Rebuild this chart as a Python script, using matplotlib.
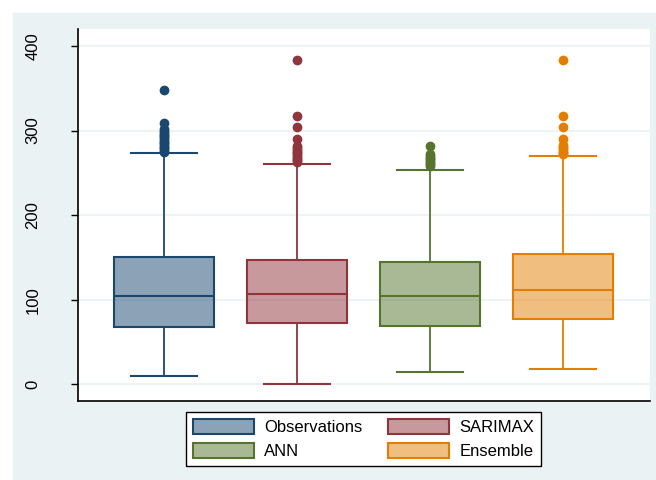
import matplotlib.pyplot as plt
import matplotlib.patches as mpatches

plt.rcParams['font.family'] = ['Liberation Sans', 'DejaVu Sans']

# series names and stata colours
names = ["Observations", "SARIMAX", "ANN", "Ensemble"]
colors = ["#1a476f", "#90353b", "#55752f", "#e37e00"]

# box statistics
whislo = [10, 0, 15, 18]
q1 = [68.5, 72.5, 69.5, 77]
med = [105, 107, 104, 112]
q3 = [151, 147.5, 145, 154.5]
whishi = [273, 260.5, 254, 270]

obs_out = [348, 309, 302, 299, 297, 295, 293, 291, 289, 287, 285, 283, 281, 279, 277, 275]
sarimax_out = [383, 317, 304, 290, 282, 279, 277, 275, 273, 271, 269, 267, 265, 263]
ann_out = [282, 272, 270, 268, 266, 264, 262, 260, 258]
ens_out = [383, 317, 304, 290, 283, 281, 279, 277, 275, 273, 272]
outliers = [obs_out, sarimax_out, ann_out, ens_out]

fig = plt.figure(figsize=(6.56, 4.80), dpi=100)
bg = mpatches.Rectangle((13 / 656, 0), 1, 467 / 480, transform=fig.transFigure,
                        color="#eaf2f3", zorder=-10)
fig.add_artist(bg)
ax = fig.add_axes([78 / 656, 79 / 480, 572 / 656, 372 / 480])
ax.set_facecolor("white")

for i in range(4):
    stats = [dict(whislo=whislo[i], q1=q1[i], med=med[i], q3=q3[i],
                  whishi=whishi[i], fliers=outliers[i])]
    c = colors[i]
    ax.bxp(stats, positions=[i + 1], widths=0.75, patch_artist=True,
           boxprops=dict(facecolor=c + "80", edgecolor=c, linewidth=1.5),
           medianprops=dict(color=c, linewidth=1.5),
           whiskerprops=dict(color=c, linewidth=1.3),
           capprops=dict(color=c, linewidth=1.5),
           capwidths=0.5,
           flierprops=dict(marker="o", markerfacecolor=c, markeredgecolor=c,
                           markersize=6, linestyle="none"))

ax.set_xlim(0.353, 4.654)
ax.set_ylim(-19.5, 420)
ax.set_yticks([0, 100, 200, 300, 400])
ax.set_yticklabels(["0", "100", "200", "300", "400"], rotation=90, va="center")
ax.tick_params(axis="y", length=5, width=1, labelsize=12, pad=22)
ax.set_xticks([])
ax.grid(axis="y", color="#eaf2f3", linewidth=1.2)
ax.set_axisbelow(True)
for s in ["top", "right"]:
    ax.spines[s].set_visible(False)
ax.spines["left"].set_linewidth(1.2)
ax.spines["bottom"].set_linewidth(1.2)

handles = [mpatches.Patch(facecolor=colors[i] + "80", edgecolor=colors[i],
                          linewidth=1.5, label=names[i]) for i in range(4)]
# order so the legend reads row-wise
order = [0, 2, 1, 3]
leg = fig.legend([handles[j] for j in order], [names[j] for j in order],
                 ncol=2, loc="upper center", bbox_to_anchor=(0.554, 0.1417),
                 fontsize=12, frameon=True, fancybox=False, framealpha=1,
                 handlelength=3.7, handleheight=1.05, handletextpad=0.6,
                 columnspacing=1.5, labelspacing=0.45, borderpad=0.4,
                 borderaxespad=0)
leg.get_frame().set_edgecolor("black")
leg.get_frame().set_linewidth(1.0)

fig.savefig("out.png", dpi=100)
